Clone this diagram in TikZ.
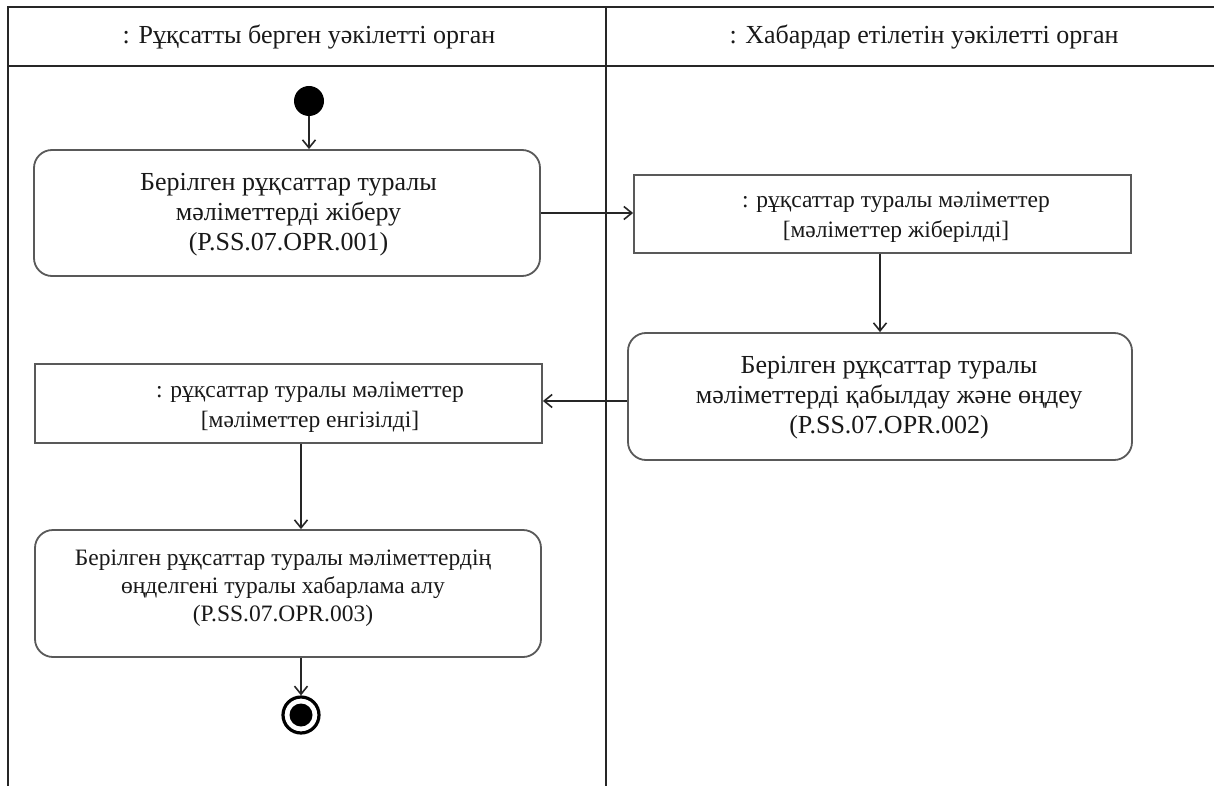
\documentclass[tikz,border=0pt]{standalone}
\usepackage{fontspec}
\setmainfont{Liberation Serif}
\usetikzlibrary{arrows.meta}
\begin{document}
\begin{tikzpicture}[x=1pt,y=-1pt,
  lane/.style={line width=2pt,draw=black!85},
  actbox/.style={draw=black!65,line width=1.8pt,rounded corners=18pt,inner sep=0pt},
  objbox/.style={draw=black!65,line width=1.8pt,inner sep=0pt},
  acttext/.style={align=center,inner sep=0pt,font=\fontsize{26}{30}\selectfont,text=black!90},
  smalltext/.style={align=center,inner sep=0pt,font=\fontsize{23.5}{28}\selectfont,text=black!90},
  objtext/.style={align=center,inner sep=0pt,font=\fontsize{23.5}{30}\selectfont,text=black!90},
  flow/.style={draw=black!85,line width=1.6pt,-{Straight Barb[length=8pt,width=13pt,line width=1.6pt]}},
  hdr/.style={font=\fontsize{26}{28}\selectfont,text=black!90,inner sep=0pt}]
\useasboundingbox (0,0) rectangle (1214,786);
\fill[white] (0,0) rectangle (1214,786);
% swimlanes
\draw[lane] (8,786) -- (8,7) -- (1214,7);
\draw[lane] (8,66) -- (1214,66);
\draw[lane] (606,7) -- (606,786);
\node[hdr] (h1) at (309,37) {: Рұқсатты берген уәкілетті орган};
\node[hdr] (h2) at (924,37) {: Хабардар етілетін уәкілетті орган};
% nodes
\node[circle,fill=black,minimum size=30pt,inner sep=0pt] (start) at (309,101) {};
\node[actbox,minimum width=506pt,minimum height=126pt] (a1) at (287,213) {};
\node[acttext] (a1t) at (288.5,215) {Берілген рұқсаттар туралы\\мәліметтерді жіберу\\(P.SS.07.OPR.001)};
\node[objbox,minimum width=497pt,minimum height=78pt] (o1) at (882.5,214) {};
\node[objtext] (o1t) at (896,217) {: рұқсаттар туралы мәліметтер\\{}[мәліметтер жіберілді]};
\node[actbox,minimum width=504pt,minimum height=127pt] (a2) at (880,396.5) {};
\node[acttext] (a2t) at (889,398) {Берілген рұқсаттар туралы\\мәліметтерді қабылдау және өңдеу\\(P.SS.07.OPR.002)};
\node[objbox,minimum width=507pt,minimum height=79pt] (o2) at (288.5,403.5) {};
\node[objtext] (o2t) at (310,407) {: рұқсаттар туралы мәліметтер\\{}[мәліметтер енгізілді]};
\node[actbox,minimum width=506pt,minimum height=127pt] (a3) at (288,593.5) {};
\node[smalltext] (a3t) at (283,588) {Берілген рұқсаттар туралы мәліметтердің\\өңделгені туралы хабарлама алу\\(P.SS.07.OPR.003)};
\node[circle,draw=black,line width=3.2pt,fill=white,minimum size=36pt,inner sep=0pt] (end) at (301,715) {};
\fill[black] (end.center) circle (11.5pt);
% flows
\draw[flow] (start.south) -- (a1.north -| start.south);
\draw[flow] (a1.east |- 0,213) -- (o1.west |- 0,213);
\draw[flow] (o1.south -| 880,0) -- (a2.north -| 880,0);
\draw[flow] (a2.west |- 0,401) -- (o2.east |- 0,401);
\draw[flow] (o2.south -| 301,0) -- (a3.north -| 301,0);
\draw[flow] (a3.south -| end.north) -- (end.north);
\end{tikzpicture}
\end{document}
